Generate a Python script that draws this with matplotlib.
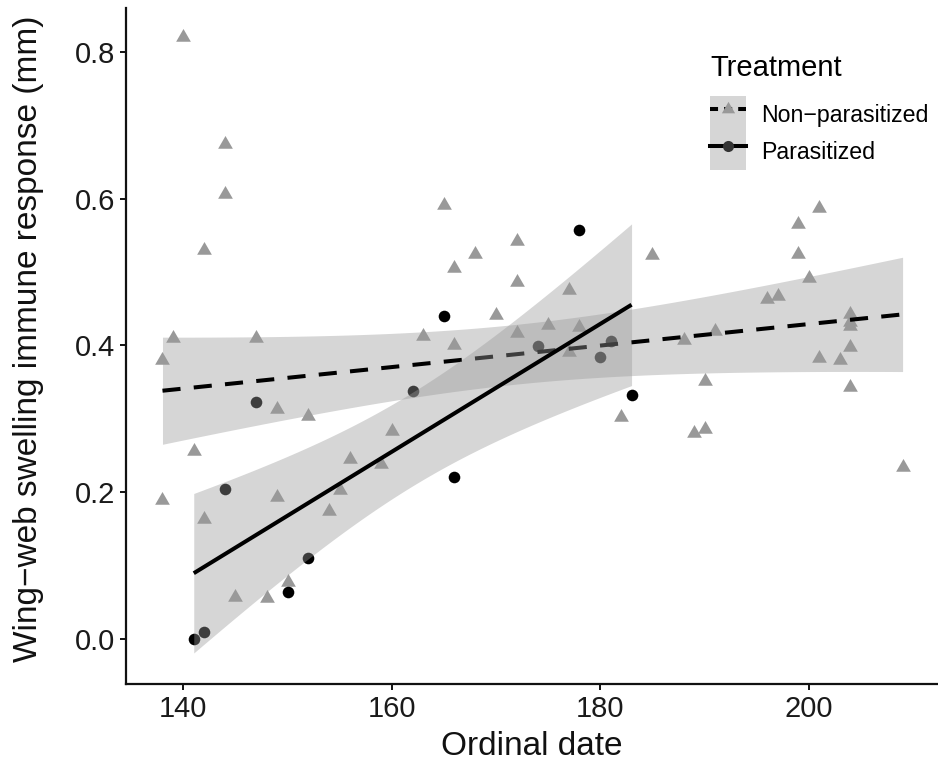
import matplotlib
matplotlib.use("Agg")
import matplotlib.pyplot as plt
import numpy as np
from matplotlib.lines import Line2D
from matplotlib.patches import Patch

plt.rcParams['font.family'] = ['Liberation Sans', 'DejaVu Sans']

# --- DATA ---
# Non-parasitized (grey triangles)
nonpar_date = [138, 138, 139, 140, 141, 142, 142, 144, 144, 145, 147, 148, 149, 149,
               150, 152, 154, 155, 156, 159, 160, 163, 165, 166, 166, 168, 170, 172,
               172, 172, 175, 177, 177, 178, 182, 185, 188, 189, 190, 190, 191, 196,
               197, 199, 199, 200, 201, 201, 203, 204, 204, 204, 204, 204, 209]
nonpar_resp = [0.380, 0.190, 0.410, 0.820, 0.256, 0.530, 0.163, 0.675, 0.607, 0.057,
               0.410, 0.056, 0.313, 0.194, 0.077, 0.304, 0.174, 0.203, 0.245, 0.238,
               0.283, 0.413, 0.591, 0.506, 0.400, 0.524, 0.442, 0.542, 0.486, 0.417,
               0.428, 0.475, 0.391, 0.425, 0.303, 0.523, 0.407, 0.281, 0.286, 0.351,
               0.420, 0.463, 0.468, 0.566, 0.524, 0.492, 0.588, 0.383, 0.380, 0.443,
               0.432, 0.426, 0.398, 0.343, 0.234]

# Parasitized (black circles)
par_date = [141, 142, 144, 147, 150, 152, 162, 165, 166, 174, 178, 180, 181, 183]
par_resp = [0.000, 0.010, 0.204, 0.323, 0.064, 0.110, 0.338, 0.440, 0.221, 0.399,
            0.557, 0.384, 0.406, 0.333]

x_ticks = [140, 160, 180, 200]
y_ticks = [0.0, 0.2, 0.4, 0.6, 0.8]

TRI_COLOR = '#999999'
DOT_COLOR = '#000000'
RIBBON = (0.6, 0.6, 0.6, 0.4)   # grey60, alpha 0.4


def t_crit(dof, z=1.959964):
    # Cornish-Fisher expansion of the t quantile (no scipy needed)
    return (z + (z**3 + z) / (4 * dof)
            + (5 * z**5 + 16 * z**3 + 3 * z) / (96 * dof**2)
            + (3 * z**7 + 19 * z**5 + 17 * z**3 - 15 * z) / (384 * dof**3))


def lm_band(x, y, n=120):
    x = np.asarray(x, float)
    y = np.asarray(y, float)
    b1, b0 = np.polyfit(x, y, 1)
    xs = np.linspace(x.min(), x.max(), n)
    fit = b0 + b1 * xs
    resid = y - (b0 + b1 * x)
    dof = len(x) - 2
    s = np.sqrt(np.sum(resid**2) / dof)
    sxx = np.sum((x - x.mean())**2)
    se = s * np.sqrt(1.0 / len(x) + (xs - x.mean())**2 / sxx)
    t = t_crit(dof)
    return xs, fit, fit - t * se, fit + t * se


W, H = 938, 774
fig = plt.figure(figsize=(W / 100, H / 100), dpi=100)
ax = fig.add_axes([126 / W, 90 / H, (937 - 126) / W, (684 - 8) / H])

# points first (ggplot draws the smooth layer over them)
ax.scatter(nonpar_date, nonpar_resp, marker=(3, 0, 0), s=150, color=TRI_COLOR,
           linewidths=0, zorder=2)
ax.scatter(par_date, par_resp, marker='o', s=70, color=DOT_COLOR,
           linewidths=0, zorder=2)

lw = 2.9
dash = (4.5, 3.3)

xs, fit, lo, hi = lm_band(nonpar_date, nonpar_resp)
ax.fill_between(xs, lo, hi, color=RIBBON, linewidth=0, zorder=3)
ax.plot(xs, fit, color='black', lw=lw, dashes=dash, zorder=4)

xs, fit, lo, hi = lm_band(par_date, par_resp)
ax.fill_between(xs, lo, hi, color=RIBBON, linewidth=0, zorder=5)
ax.plot(xs, fit, color='black', lw=lw, zorder=6, solid_capstyle='butt')

# axes styling (theme_classic look)
ax.set_xlim(134.5, 212.3)
ax.set_ylim(-0.0615, 0.860)
ax.set_xticks(x_ticks)
ax.set_yticks(y_ticks)
ax.set_yticklabels([f"{v:.1f}" for v in y_ticks])
for side in ['top', 'right']:
    ax.spines[side].set_visible(False)
for side in ['left', 'bottom']:
    ax.spines[side].set_linewidth(1.6)
    ax.spines[side].set_color('#111111')
ax.tick_params(axis='both', direction='out', length=4, width=1.4, color='#111111',
               labelsize=21, labelcolor='#1a1a1a', pad=4)

ax.set_xlabel("Ordinal date", fontsize=24, labelpad=6, color='#111111')
ax.set_ylabel("Wing\u2212web swelling immune response (mm)", fontsize=24,
              color='#111111')
ax.yaxis.set_label_coords(-0.101, 0.51)

# legend
h1 = (Patch(facecolor=RIBBON, edgecolor='none'),
      Line2D([], [], color='black', lw=lw, dashes=(2.0, 1.5),
             marker=(3, 0, 0), markersize=11, markerfacecolor=TRI_COLOR,
             markeredgewidth=0))
h2 = (Patch(facecolor=RIBBON, edgecolor='none'),
      Line2D([], [], color='black', lw=lw, marker='o', markersize=8,
             markerfacecolor='#333333', markeredgewidth=0))
leg = ax.legend([h1, h2], ["Non\u2212parasitized", "Parasitized"],
                title="Treatment", loc='upper left',
                bbox_to_anchor=(710 / W, 1 - 54 / H), bbox_transform=fig.transFigure,
                frameon=False, fontsize=16.7, title_fontsize=21,
                handlelength=1.55, handleheight=2.07, handletextpad=0.65,
                labelspacing=0.0, borderpad=0, borderaxespad=0,
                alignment='left')
leg._legend_box.sep = 10

fig.savefig("out.png", dpi=100)
